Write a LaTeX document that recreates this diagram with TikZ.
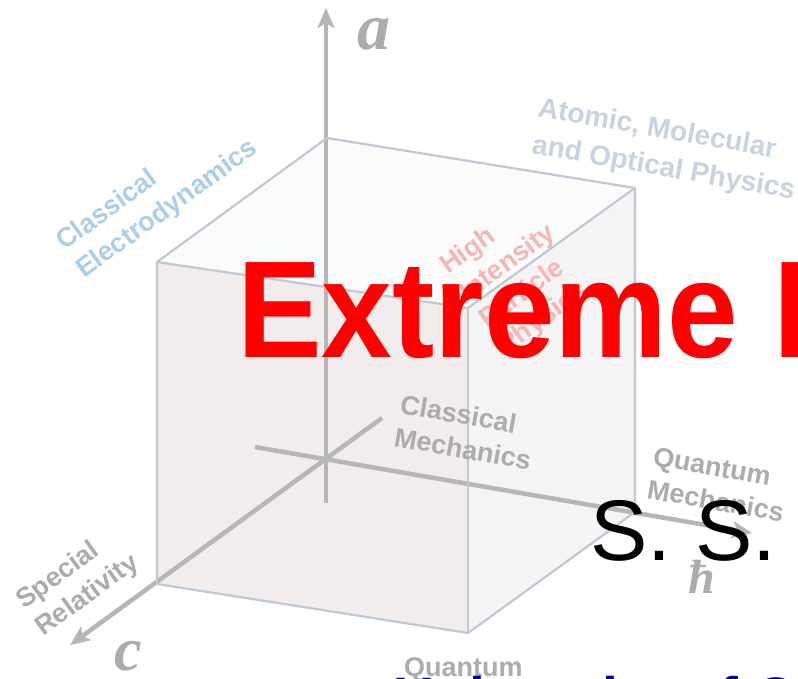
\documentclass[tikz,border=0pt]{standalone}
\usepackage{fontspec}
\setmainfont{Liberation Sans}
\newfontfamily\tnr{Liberation Serif}
\usetikzlibrary{arrows.meta}
\definecolor{axisgray}{RGB}{182,182,182}
\definecolor{edgecol}{RGB}{192,200,212}
\definecolor{leftface}{RGB}{242,236,236}
\definecolor{rightface}{RGB}{245,244,245}
\definecolor{topface}{RGB}{252,251,251}
\definecolor{cedblue}{RGB}{172,206,234}
\definecolor{amoblue}{RGB}{200,210,226}
\definecolor{hipink}{RGB}{246,182,182}
\definecolor{lblgray}{RGB}{172,172,172}
\definecolor{navytxt}{RGB}{0,0,155}
\begin{document}
\begin{tikzpicture}[x=1pt,y=-1pt,
  lbl/.style={font=\bfseries\fontsize{27}{32}\selectfont, inner sep=0pt, anchor=base west},
  axis/.style={draw=axisgray, line width=4.5pt},
  tipst/.style={-{Stealth[length=20pt,width=17pt,inset=5pt]}},
  edge/.style={draw=edgecol, line width=2.2pt, line join=round},
  mathl/.style={font=\tnr\bfseries\itshape, text=lblgray, inner sep=0pt, anchor=base west}]
\useasboundingbox (0,0) rectangle (798,679);
\clip (0,0) rectangle (798,679);
\fill[white] (0,0) rectangle (798,679);

% cube corners
\coordinate (A) at (157,262);
\coordinate (B) at (468,308);
\coordinate (C) at (635,188);
\coordinate (D) at (327,138);
\coordinate (E) at (157,584);
\coordinate (F) at (468,633);
\coordinate (G) at (635,512);

% faces
\fill[leftface] (A) -- (B) -- (F) -- (E) -- cycle;
\fill[rightface] (B) -- (C) -- (G) -- (F) -- cycle;
\fill[topface] (A) -- (D) -- (C) -- (B) -- cycle;

% axes
\coordinate (aS) at (326,503);
\coordinate (aT) at (326,8);
\coordinate (hS) at (255,447);
\coordinate (hT) at (752,533);
\coordinate (cS) at (382,418);
\coordinate (cT) at (70,645);
\draw[axis, tipst] (aS) -- (aT);
\draw[axis, tipst] (hS) -- (hT);
\draw[axis, tipst] (cS) -- (cT);

% edges
\draw[edge] (A) -- (B) -- (C) -- (D) -- cycle;
\draw[edge] (A) -- (E) -- (F) -- (G) -- (C);
\draw[edge] (B) -- (F);

% axis letters
\node[mathl, font=\tnr\bfseries\itshape\fontsize{66}{66}\selectfont] (la) at (357,50) {a};
\node[mathl, font=\tnr\bfseries\itshape\fontsize{62}{62}\selectfont] (lc) at (114,670) {c};
\node[mathl, font=\tnr\bfseries\itshape\fontsize{48}{48}\selectfont] (lh) at (688,593) {ħ};

% labels
\node[lbl, text=cedblue, rotate=36] (ce1) at (64,251) {Classical};
\node[lbl, text=cedblue, rotate=36] (ce2) at (84,279) {Electrodynamics};
\node[lbl, text=amoblue, rotate=-10, font=\bfseries\fontsize{28}{33}\selectfont] (amo1) at (537,116) {Atomic, Molecular};
\node[lbl, text=amoblue, rotate=-10, font=\bfseries\fontsize{28}{33}\selectfont] (amo2) at (531,153) {and Optical Physics};
\node[lbl, text=hipink, rotate=36] (hi1) at (448,275) {High};
\node[lbl, text=hipink, rotate=36] (hi2) at (467,302) {Intensity};
\node[lbl, text=hipink, rotate=36] (hi3) at (487,329) {Particle};
\node[lbl, text=hipink, rotate=36] (hi4) at (506,355) {Physics};
\node[lbl, text=lblgray, rotate=-10] (cm1) at (399,413) {Classical};
\node[lbl, text=lblgray, rotate=-10] (cm2) at (393,446) {Mechanics};
\node[lbl, text=lblgray, rotate=-10] (qm1) at (652,465) {Quantum};
\node[lbl, text=lblgray, rotate=-10] (qm2) at (646,498) {Mechanics};
\node[lbl, text=lblgray, rotate=36] (sr1) at (24,610) {Special};
\node[lbl, text=lblgray, rotate=36] (sr2) at (43,637) {Relativity};
\node[lbl, text=lblgray] (qb) at (404,676) {Quantum};

% slide texts
\node[inner sep=0pt, anchor=base west, text=red, xscale=0.92, font=\bfseries\fontsize{138}{140}\selectfont] (title) at (237,357) {Extreme L};
\node[inner sep=0pt, anchor=base west, text=black, font=\fontsize{86}{90}\selectfont] (ss) at (590,560) {S. S.};
\node[inner sep=0pt, anchor=base west, text=navytxt, font=\bfseries\fontsize{57}{60}\selectfont] (univ) at (393,717) {University of C};
\end{tikzpicture}
\end{document}
